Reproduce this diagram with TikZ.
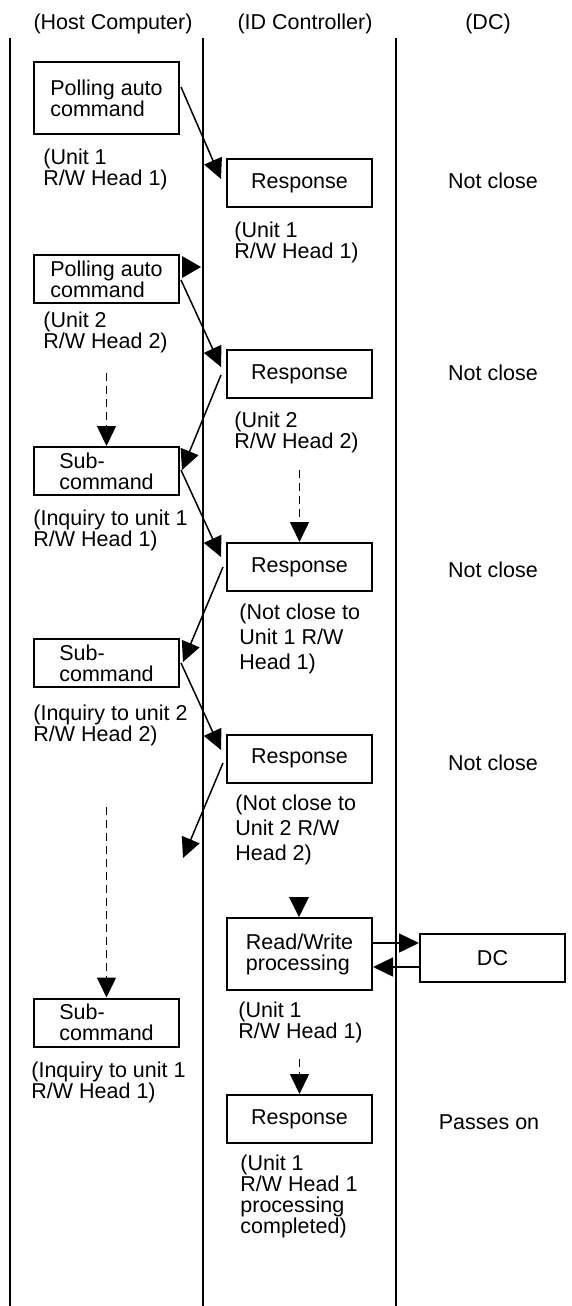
\documentclass[tikz,border=0pt]{standalone}
\usepackage{fontspec}
\setmainfont{Liberation Sans}
\usetikzlibrary{arrows.meta, calc, positioning}

\def\fnt{\fontsize{10.75}{10.5}\selectfont}
\def\fntwide{\fontsize{10.75}{12.5}\selectfont}

\tikzset{
	lane/.style={line width=1pt},
	box/.style={draw, line width=1pt, minimum width=72.5pt, minimum height=24pt,
		inner sep=0pt, align=left, font=\fnt},
	tallbox/.style={box, minimum height=36pt},
	note/.style={anchor=base west, inner sep=0pt, align=left, font=\fnt},
	widenote/.style={note, font=\fntwide},
	state/.style={anchor=base, inner sep=0pt, font=\fnt},
	msg/.style={line width=0.75pt, -{Triangle[length=10pt, width=9.5pt]}},
	wait/.style={msg, dash pattern=on 4pt off 2.5pt},
}

\begin{document}
\begin{tikzpicture}[x=0.5pt, y=-0.5pt]
	
	% -------------------------------------------------------------------------
	% 1. Parameters (pixel grid, y grows downwards)
	% -------------------------------------------------------------------------
	\def\xH{106.5}  % host column
	\def\xI{299.5}  % ID controller column
	\def\xD{492.5}  % DC column
	\useasboundingbox (0,0) rectangle (572,1306);
	
	% -------------------------------------------------------------------------
	% 2. Column titles and lanes
	% -------------------------------------------------------------------------
	\node[state] (hdrHost) at (113, 29) {(Host Computer)};
	\node[state] (hdrID)   at (305, 29) {(ID Controller)};
	\node[state] (hdrDC)   at (488, 29) {(DC)};
	
	\draw[lane] (10, 38) -- (10, 1306);
	\draw[lane] (203, 38) -- (203, 1306);
	\draw[lane] (396, 38) -- (396, 1306);
	
	% -------------------------------------------------------------------------
	% 3. Boxes
	% -------------------------------------------------------------------------
	\node[tallbox] (poll1) at (\xH, 98)    {Polling auto\\command};
	\node[box]     (resp1) at (\xI, 183)   {Response};
	\node[box]     (poll2) at (\xH, 279)   {Polling auto\\command};
	\node[box]     (resp2) at (\xI, 374)   {Response};
	\node[box]     (sub1)  at (\xH, 471)   {Sub-\\command};
	\node[box]     (resp3) at (\xI, 567)   {Response};
	\node[box]     (sub2)  at (\xH, 663)   {Sub-\\command};
	\node[box]     (resp4) at (\xI, 758.5) {Response};
	\node[tallbox] (rw)    at (\xI, 954)   {Read/Write\\processing};
	\node[box]     (dc)    at (\xD, 958)   {DC};
	\node[box]     (sub3)  at (\xH, 1022.5){Sub-\\command};
	\node[box]     (resp5) at (\xI, 1119)  {Response};
	
	% -------------------------------------------------------------------------
	% 4. Notes under the boxes (base = baseline of the last line)
	% -------------------------------------------------------------------------
	\node[note] (n1)  at (43, 185)   {(Unit 1\\R/W Head 1)};
	\node[note] (n2)  at (234, 258)  {(Unit 1\\R/W Head 1)};
	\node[note] (n3)  at (43, 348)   {(Unit 2\\R/W Head 2)};
	\node[note] (n4)  at (234, 448)  {(Unit 2\\R/W Head 2)};
	\node[note] (n5)  at (33, 546)   {(Inquiry to unit 1\\R/W Head 1)};
	\node[widenote] (n6) at (239, 669) {(Not close to\\Unit 1 R/W\\Head 1)};
	\node[note] (n7)  at (33, 741)   {(Inquiry to unit 2\\R/W Head 2)};
	\node[widenote] (n8) at (235, 860) {(Not close to\\Unit 2 R/W\\Head 2)};
	\node[note] (n9)  at (238, 1038) {(Unit 1\\R/W Head 1)};
	\node[note] (n10) at (31, 1098)  {(Inquiry to unit 1\\R/W Head 1)};
	\node[note] (n11) at (240, 1233) {(Unit 1\\R/W Head 1\\processing\\completed)};
	
	% DC state
	\node[state] (st1) at (493, 188)  {Not close};
	\node[state] (st2) at (493, 380)  {Not close};
	\node[state] (st3) at (493, 577)  {Not close};
	\node[state] (st4) at (493, 770)  {Not close};
	\node[state] (st5) at (489, 1129) {Passes on};
	
	% -------------------------------------------------------------------------
	% 5. Messages
	% -------------------------------------------------------------------------
	\draw[msg] ($(poll1.east)+(1,-11)$) -- ($(resp1.west)+(-5,-4)$);
	\fill (182,256) -- (201,267) -- (182,278) -- cycle;
	\draw[msg] ($(poll2.east)+(1,1)$) -- ($(resp2.west)+(-5,-7)$);
	\draw[msg] ($(resp2.west)+(-5,1)$) -- ($(sub1.east)+(2,-1)$);
	\draw[msg] ($(sub1.east)+(1,-1)$) -- ($(resp3.west)+(-5,-10)$);
	\draw[msg] ($(resp3.west)+(-3,0)$) -- ($(sub2.east)+(3,-1)$);
	\draw[msg] ($(sub2.east)+(1,0)$) -- ($(resp4.west)+(-5,-8.5)$);
	\coordinate (lost) at (183, 858);
	\draw[msg] ($(resp4.west)+(-3,4.5)$) -- (lost);
	
	\fill (289,897) -- (309,897) -- (299,917) -- cycle;
	\draw[msg] ($(rw.east)+(0,-11)$) -- ($(dc.west)+(0,-15)$);
	\draw[msg] ($(dc.west)+(0,9)$) -- ($(rw.east)+(0,13)$);
	
	% waiting (dashed)
	\coordinate (w1) at (\xH, 373);
	\coordinate (w2) at (\xI, 470);
	\coordinate (w3) at (\xH, 807);
	\coordinate (w4) at (\xI, 1059);
	\draw[wait] (w1) -- (sub1.north);
	\draw[wait] (w2) -- (resp3.north);
	\draw[wait] (w3) -- (sub3.north);
	\draw[wait] (w4) -- (resp5.north);
	
\end{tikzpicture}
\end{document}
